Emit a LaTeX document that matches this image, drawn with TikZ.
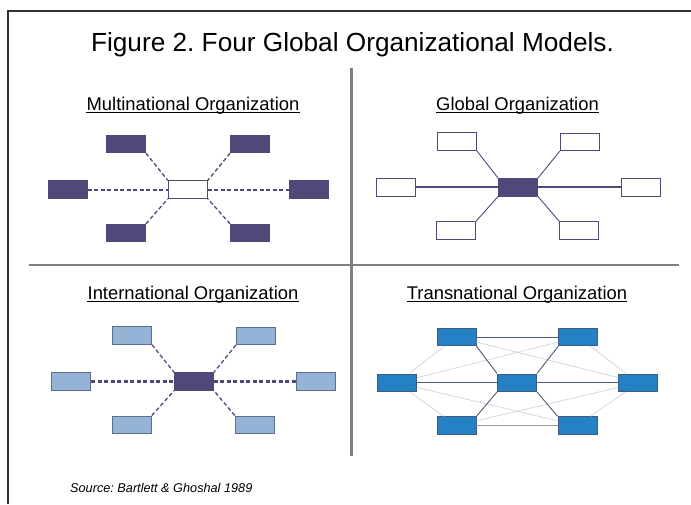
\documentclass[tikz,border=0pt]{standalone}
\usepackage{fontspec}
\setmainfont{Liberation Sans}
\frenchspacing

\definecolor{plum}{RGB}{79,73,122}
\definecolor{palefill}{RGB}{149,179,215}
\definecolor{paleedge}{RGB}{92,110,140}
\definecolor{bluefill}{RGB}{38,128,196}
\definecolor{blueedge}{RGB}{58,92,132}
\definecolor{tiegray}{RGB}{78,92,116}
\definecolor{weakgray}{RGB}{206,211,220}

\tikzset{
	box/.style={rectangle, inner sep=0pt, minimum width=39pt, minimum height=17.5pt, line width=0.9pt},
	solidbox/.style={box, draw=plum, fill=plum},
	openbox/.style={box, draw=plum, fill=white},
	palebox/.style={box, draw=paleedge, fill=palefill},
	bluebox/.style={box, draw=blueedge, fill=bluefill},
	dashlink/.style={draw=plum, dash pattern=on 4pt off 2.5pt, line width=1.3pt},
	dashtrunk/.style={dashlink, line width=2.2pt},
	link/.style={draw=plum, line width=0.9pt},
	trunk/.style={link, line width=2.2pt},
	tie/.style={draw=tiegray, line width=0.9pt},
	weaktie/.style={draw=weakgray, line width=0.7pt},
	heading/.style={anchor=base, inner sep=0pt, font=\fontsize{18.4}{21}\selectfont},
	rule/.style={line width=0.9pt},
}

\begin{document}
\begin{tikzpicture}[x=1pt, y=-1pt]
			%%%%% START %%%%%
			
			\useasboundingbox (0,0) rectangle (691,504);
			
			\draw[line width=1.6pt, color=black!80] (7.8,504) -- (7.8,10.8) -- (691,10.8);
			
			\draw[line width=2.6pt, color=black!50] (29,265) -- (679,265);
			\draw[line width=2.6pt, color=black!50] (351.5,68) -- (351.5,456);
			
			\node[anchor=base, inner sep=0pt, font=\fontsize{26.2}{30}\selectfont] (title) at (352.5,51) {Figure 2. Four Global Organizational Models.};
			
			%% headings
			\node[heading] (multi) at (193,110) {Multinational Organization};
			\node[heading] (glob) at (517.5,110) {Global Organization};
			\node[heading] (inter) at (193,299) {International Organization};
			\node[heading] (trans) at (517,299) {Transnational Organization};
			
			\draw[rule] ([yshift=-2.6pt]multi.base west) -- ([yshift=-2.6pt]multi.base east);
			\draw[rule] ([yshift=-2.6pt]glob.base west) -- ([yshift=-2.6pt]glob.base east);
			\draw[rule] ([yshift=-2.6pt]inter.base west) -- ([yshift=-2.6pt]inter.base east);
			\draw[rule] ([yshift=-2.6pt]trans.base west) -- ([yshift=-2.6pt]trans.base east);
			
			%% multinational
			\node[openbox] (m-c) at (187.8,189.6) {};
			\node[solidbox] (m-tl) at (126,144) {};
			\node[solidbox] (m-tr) at (250,144) {};
			\node[solidbox] (m-l) at (68,189.6) {};
			\node[solidbox] (m-r) at (308.5,189.6) {};
			\node[solidbox] (m-bl) at (126,233) {};
			\node[solidbox] (m-br) at (250,233) {};
			
			\draw[dashlink] (m-tl.south east) -- (m-c.north west);
			\draw[dashlink] (m-tr.south west) -- (m-c.north east);
			\draw[dashlink] (m-bl.north east) -- (m-c.south west);
			\draw[dashlink] (m-br.north west) -- (m-c.south east);
			\draw[dashtrunk] (m-l.east) -- (m-c.west);
			\draw[dashtrunk] (m-c.east) -- (m-r.west);
			
			%% global
			\node[solidbox] (g-c) at (518,187.3) {};
			\node[openbox] (g-tl) at (456.8,141.5) {};
			\node[openbox] (g-tr) at (579.7,142) {};
			\node[openbox] (g-l) at (396,187.3) {};
			\node[openbox] (g-r) at (640.7,187.3) {};
			\node[openbox] (g-bl) at (456.2,230.3) {};
			\node[openbox] (g-br) at (579,230.3) {};
			
			\draw[link] (g-tl.south east) -- (g-c.north west);
			\draw[link] (g-tr.south west) -- (g-c.north east);
			\draw[link] (g-bl.north east) -- (g-c.south west);
			\draw[link] (g-br.north west) -- (g-c.south east);
			\draw[trunk] (g-l.east) -- (g-c.west);
			\draw[trunk] (g-c.east) -- (g-r.west);
			
			%% international
			\node[solidbox] (i-c) at (194,381.5) {};
			\node[palebox] (i-tl) at (132,335.5) {};
			\node[palebox] (i-tr) at (255.8,335.8) {};
			\node[palebox] (i-l) at (71.3,381.5) {};
			\node[palebox] (i-r) at (316.3,381.5) {};
			\node[palebox] (i-bl) at (131.8,424.7) {};
			\node[palebox] (i-br) at (254.7,424.7) {};
			
			\draw[dashlink] (i-tl.south east) -- (i-c.north west);
			\draw[dashlink] (i-tr.south west) -- (i-c.north east);
			\draw[dashlink] (i-bl.north east) -- (i-c.south west);
			\draw[dashlink] (i-br.north west) -- (i-c.south east);
			\draw[dashtrunk] (i-l.east) -- (i-c.west);
			\draw[dashtrunk] (i-c.east) -- (i-r.west);
			
			%% transnational
			\node[bluebox] (t-tl) at (456.5,337) {};
			\node[bluebox] (t-tr) at (578.3,337) {};
			\node[bluebox] (t-l) at (397,382.7) {};
			\node[bluebox] (t-c) at (517,382.7) {};
			\node[bluebox] (t-r) at (638.3,382.7) {};
			\node[bluebox] (t-bl) at (456.5,425.5) {};
			\node[bluebox] (t-br) at (577.5,425.5) {};
			
			\draw[weaktie] (t-l) -- (t-tl);
			\draw[weaktie] (t-l) -- (t-bl);
			\draw[weaktie] (t-tr) -- (t-r);
			\draw[weaktie] (t-br) -- (t-r);
			\draw[weaktie] (t-l) -- (t-tr);
			\draw[weaktie] (t-l) -- (t-br);
			\draw[weaktie] (t-tl) -- (t-r);
			\draw[weaktie] (t-bl) -- (t-r);
			
			\draw[tie] (t-tl.east) -- (t-tr.west);
			\draw[tie] (t-l.east) -- (t-c.west);
			\draw[tie] (t-c.east) -- (t-r.west);
			\draw[tie] (t-tl.south east) -- (t-c.north west);
			\draw[tie] (t-tr.south west) -- (t-c.north east);
			\draw[tie] (t-bl.north east) -- (t-c.south west);
			\draw[tie] (t-br.north west) -- (t-c.south east);
			\draw[tie, draw=black!40, line width=1.8pt] (t-bl.east) -- (t-br.west);
			
			\node[anchor=base west, inner sep=0pt, font=\fontsize{12.7}{15}\selectfont\itshape] (source) at (70,492) {Source: Bartlett \& Ghoshal 1989};
			
			%%%%% END %%%%%
\end{tikzpicture}
\end{document}
